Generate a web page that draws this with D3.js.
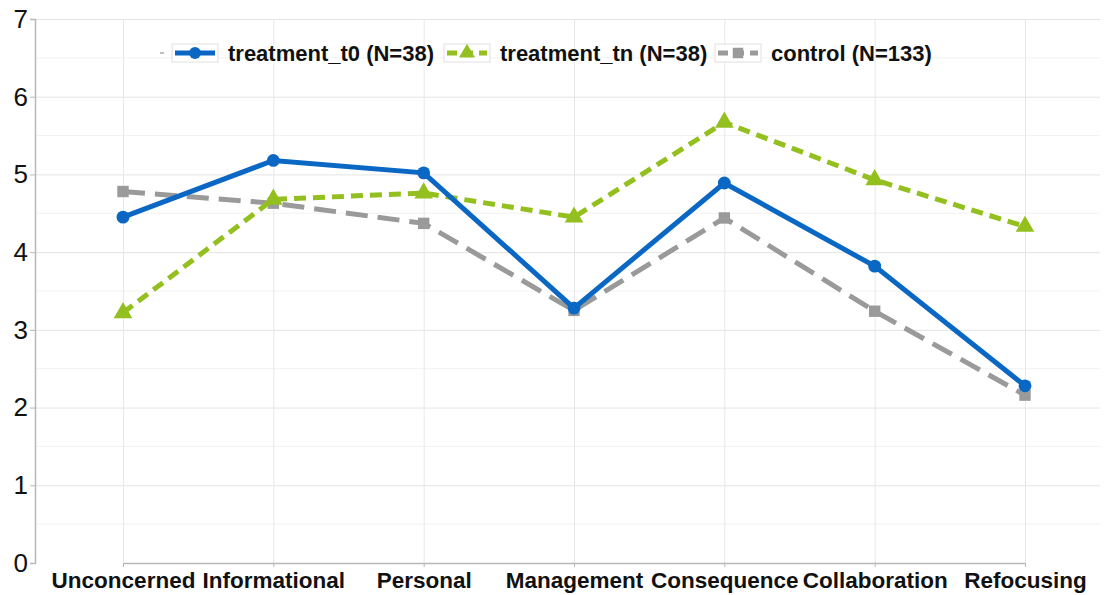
<!DOCTYPE html>
<html>
<head>
<meta charset="utf-8">
<script src="https://cdn.jsdelivr.net/npm/d3@7"></script>
<style>
  body { margin: 0; background: #fff; }
  text { font-family: "Liberation Sans", Arial, sans-serif; }
</style>
</head>
<body>
<div id="graph"></div>
<script>
// Chart data
var categories = ['Unconcerned', 'Informational', 'Personal', 'Management', 'Consequence', 'Collaboration', 'Refocusing'];
var treatmentT0 = [4.45, 5.18, 5.02, 3.28, 4.89, 3.82, 2.28];
var treatmentTn = [3.22, 4.68, 4.76, 4.45, 5.67, 4.93, 4.33];
var control     = [4.78, 4.63, 4.37, 3.25, 4.44, 3.24, 2.16];
var yTicks      = [0, 1, 2, 3, 4, 5, 6, 7];
var seriesNames = ['treatment_t0 (N=38)', 'treatment_tn (N=38)', 'control (N=133)'];

var W = 1105, H = 595;
var margin = { top: 19, right: 5, bottom: 32, left: 35 };
var width  = W - margin.left - margin.right;
var height = H - margin.top - margin.bottom;

var svg = d3.select('#graph')
            .append('svg')
            .attr('width', W)
            .attr('height', H)
            .append('g')
            .attr('transform', 'translate(' + margin.left + ',' + margin.top + ')');

var xScale = d3.scalePoint()
               .domain(categories)
               .range([88, 990]);

var yScale = d3.scaleLinear()
               .domain([0, 7])
               .range([height, 0]);

// minor horizontal grid (half steps)
svg.append('g')
   .selectAll('line')
   .data(d3.range(0.5, 7, 1))
   .enter().append('line')
   .attr('x1', 0).attr('x2', width)
   .attr('y1', function (d) { return yScale(d); })
   .attr('y2', function (d) { return yScale(d); })
   .style('stroke', '#f2f2f2');

// major horizontal grid
var yGrid = d3.axisLeft(yScale).tickValues(yTicks.slice(1)).tickSize(-width).tickFormat('');
svg.append('g').attr('class', 'grid').call(yGrid)
   .call(function (g) { g.select('.domain').remove(); g.selectAll('line').style('stroke', '#e4e4e4'); });

// vertical grid at categories
var xGrid = d3.axisBottom(xScale).tickSize(-height).tickFormat('');
svg.append('g').attr('transform', 'translate(0,' + height + ')').call(xGrid)
   .call(function (g) { g.select('.domain').remove(); g.selectAll('line').style('stroke', '#e8e8e8'); });

// axes
var yAxis = d3.axisLeft(yScale).tickValues(yTicks).tickFormat(d3.format('d')).tickSize(5).tickPadding(2);
svg.append('g').call(yAxis)
   .call(function (g) {
       g.select('.domain').style('stroke', '#b8b8b8').style('stroke-width', 1.5);
       g.selectAll('line').style('stroke', '#b8b8b8');
       g.selectAll('text').style('font-size', '26px').style('fill', '#111');
   });

var xAxis = d3.axisBottom(xScale).tickSize(4).tickPadding(5).tickSizeOuter(0);
svg.append('g').attr('transform', 'translate(0,' + height + ')').call(xAxis)
   .call(function (g) {
       g.select('.domain').style('stroke', '#b8b8b8').style('stroke-width', 1.5);
       g.selectAll('line').style('stroke', '#b8b8b8');
       g.selectAll('text').style('font-size', '22.5px').style('font-weight', 'bold').style('fill', '#111');
   });

var series = [
    { name: seriesNames[0], values: treatmentT0, color: '#0a68c4', dash: null,   marker: 'circle' },
    { name: seriesNames[1], values: treatmentTn, color: '#93c01f', dash: '12,7', marker: 'triangle' },
    { name: seriesNames[2], values: control,     color: '#9a9a9a', dash: '22,10', marker: 'square' }
];

var line = d3.line()
             .x(function (d, i) { return xScale(categories[i]); })
             .y(function (d) { return yScale(d); });

var symbolType = { circle: d3.symbolCircle, triangle: d3.symbolTriangle, square: d3.symbolSquare };

// draw in reverse so blue is on top
series.slice().reverse().forEach(function (s) {
    svg.append('path')
       .datum(s.values)
       .attr('d', line)
       .style('fill', 'none')
       .style('stroke', s.color)
       .style('stroke-width', 5)
       .style('stroke-dasharray', s.dash);

    svg.append('g')
       .selectAll('path')
       .data(s.values)
       .enter().append('path')
       .attr('transform', function (d, i) { return 'translate(' + xScale(categories[i]) + ',' + yScale(d) + ')'; })
       .attr('d', d3.symbol().type(symbolType[s.marker]).size(s.marker === 'triangle' ? 150 : 130))
       .style('fill', s.color);
});

// legend
var legend = svg.append('g').attr('transform', 'translate(0,' + (53 - margin.top) + ')');
legend.append('line').attr('x1', 125).attr('x2', 129).attr('y1', 0).attr('y2', 0).style('stroke', '#aaa').style('stroke-width', 1.5);
var legendX = [137, 409, 680];
series.forEach(function (s, i) {
    var lg = legend.append('g').attr('transform', 'translate(' + legendX[i] + ',0)');
    lg.append('rect').attr('x', 0).attr('y', -9).attr('width', 46).attr('height', 18).style('fill', '#fff').style('stroke', '#e0e0e0');
    lg.append('line').attr('x1', 3).attr('x2', 43).attr('y1', 0).attr('y2', 0)
      .style('stroke', s.color).style('stroke-width', 5).style('stroke-dasharray', s.dash ? '10,6' : null);
    lg.append('path').attr('transform', 'translate(23,0)')
      .attr('d', d3.symbol().type(symbolType[s.marker]).size(110)).style('fill', s.color);
    lg.append('text').attr('x', 56).attr('y', 8)
      .style('font-size', '22px').style('font-weight', 'bold').style('fill', '#111')
      .text(s.name);
});
</script>
</body>
</html>
